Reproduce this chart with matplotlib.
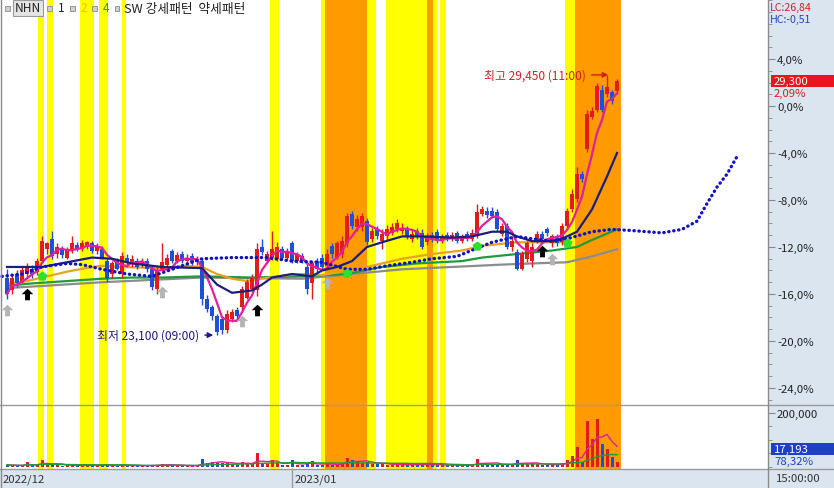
import numpy as np
import pandas as pd
import matplotlib
matplotlib.use('Agg')
import matplotlib.pyplot as plt
from matplotlib.path import Path
from matplotlib.patches import Rectangle
from matplotlib.lines import Line2D
from matplotlib.ticker import FuncFormatter, MultipleLocator

plt.rcParams['font.family'] = ['Noto Sans CJK KR', 'DejaVu Sans']

# hourly candles, % change vs 28,700 base
open_pct = [-14.6, -15.7, -14.3, -15.0, -14.3, -13.9, -14.1, -13.2, -12.2, -11.3,
            -12.6, -12.2, -12.9, -12.3, -11.8, -12.2, -12.0, -11.7, -12.3, -12.2,
            -13.2, -14.3, -13.2, -14.3, -12.9, -13.4, -13.2, -13.5, -13.2, -13.9,
            -15.6, -13.9, -13.5, -12.3, -13.2, -12.6, -13.2, -12.8, -13.3, -13.2,
            -16.4, -17.1, -17.9, -18.1, -19.1, -18.1, -17.4, -17.1, -16.3, -15.6,
            -15.7, -12.0, -13.2, -12.9, -13.0, -12.2, -12.9, -11.7, -13.2, -12.8,
            -13.7, -15.1, -13.2, -12.9, -13.6, -11.9, -12.9, -12.6, -11.7, -9.2,
            -10.3, -10.3, -9.8, -11.3, -10.5, -11.5, -11.1, -10.8, -10.5, -10.6,
            -10.5, -11.3, -10.6, -10.8, -11.6, -11.0, -10.7, -11.5, -11.0, -11.3,
            -10.8, -11.5, -10.9, -11.3, -11.1, -9.2, -8.9, -8.9, -9.0, -10.9,
            -10.2, -12.0, -12.4, -13.9, -13.0, -13.2, -11.5, -10.9, -10.5, -11.7,
            -11.1, -11.6, -10.2, -8.8, -7.9, -5.8, -3.7, -0.9, -0.3, 1.4,
            1.0, 1.2, 1.3]
high_pct = [-13.9, -14.3, -14.0, -13.7, -13.4, -13.5, -12.9, -11.1, -11.6, -10.6,
            -11.7, -11.9, -12.0, -11.1, -11.6, -11.4, -11.5, -11.5, -11.7, -11.9,
            -12.9, -13.2, -12.9, -12.4, -12.6, -12.7, -12.9, -12.9, -12.9, -13.5,
            -13.7, -11.7, -12.6, -12.2, -12.4, -12.3, -12.6, -12.5, -12.8, -12.9,
            -16.1, -16.9, -17.7, -17.9, -17.4, -17.3, -17.1, -15.3, -14.7, -14.3,
            -11.7, -11.3, -12.3, -10.6, -11.6, -11.9, -12.1, -11.5, -12.4, -12.5,
            -13.2, -13.2, -12.9, -12.6, -12.2, -11.7, -11.5, -11.1, -9.1, -8.9,
            -9.3, -9.1, -9.5, -10.4, -10.2, -10.5, -10.1, -10.0, -9.6, -10.0,
            -10.2, -10.5, -10.4, -10.5, -10.8, -10.7, -10.5, -10.9, -10.7, -10.7,
            -10.6, -10.9, -10.6, -10.5, -8.3, -8.5, -8.6, -8.6, -8.8, -10.0,
            -10.0, -11.1, -12.2, -12.3, -11.5, -11.7, -10.6, -10.6, -10.3, -10.9,
            -10.9, -10.0, -8.7, -7.1, -5.2, -5.5, -0.3, -0.1, 2.0, 1.8,
            2.6, 1.4, 2.3]
low_pct = [-16.4, -16.0, -15.4, -15.1, -14.6, -14.6, -14.4, -13.4, -12.6, -13.0,
           -12.9, -12.9, -13.0, -12.5, -12.3, -12.3, -12.2, -12.5, -12.6, -13.0,
           -15.0, -14.6, -14.0, -14.6, -13.7, -13.7, -13.9, -13.7, -14.1, -15.7,
           -16.0, -14.0, -13.7, -13.4, -13.4, -13.4, -13.4, -13.5, -13.5, -16.9,
           -17.5, -18.2, -19.5, -19.4, -19.3, -18.4, -18.2, -17.4, -16.4, -15.7,
           -16.2, -12.7, -13.4, -13.1, -13.2, -13.0, -13.1, -13.4, -13.4, -13.4,
           -16.0, -16.4, -14.1, -13.9, -13.9, -12.9, -13.0, -12.9, -12.0, -10.5,
           -10.6, -10.6, -11.8, -11.6, -11.3, -12.2, -11.4, -11.0, -10.7, -10.9,
           -11.3, -11.6, -11.3, -12.2, -11.8, -11.6, -11.7, -11.7, -11.5, -11.5,
           -11.7, -11.7, -11.5, -11.5, -11.2, -9.4, -9.5, -9.5, -10.6, -11.1,
           -12.2, -12.3, -14.0, -14.0, -13.3, -13.7, -11.7, -11.6, -11.1, -12.0,
           -11.9, -11.8, -10.4, -9.0, -8.2, -6.5, -3.9, -1.1, -0.5, -0.5,
           0.8, 0.2, 1.0]
close_pct = [-16.0, -14.6, -15.1, -14.0, -13.7, -14.3, -13.2, -11.5, -11.7, -12.8,
             -12.0, -12.7, -12.2, -11.7, -12.2, -11.7, -11.6, -12.3, -11.9, -12.9,
             -14.6, -13.4, -13.9, -12.8, -13.4, -13.0, -13.7, -13.2, -13.9, -15.4,
             -14.0, -13.3, -12.9, -13.2, -12.7, -13.2, -12.9, -13.3, -13.0, -16.4,
             -17.3, -17.9, -19.2, -19.1, -17.7, -17.5, -17.9, -15.6, -15.0, -14.6,
             -12.2, -12.4, -12.6, -12.2, -12.0, -12.9, -12.3, -13.2, -12.7, -13.2,
             -15.6, -13.4, -13.9, -13.7, -12.6, -12.6, -11.7, -11.5, -9.4, -10.2,
             -9.6, -9.4, -11.6, -10.6, -11.1, -10.9, -10.5, -10.3, -10.0, -10.4,
             -11.1, -10.9, -11.1, -12.0, -11.1, -11.4, -11.5, -11.1, -11.3, -11.0,
             -11.5, -11.1, -11.3, -10.8, -9.0, -8.8, -9.3, -9.4, -10.5, -10.2,
             -12.0, -11.5, -13.9, -12.6, -11.7, -12.0, -10.9, -11.3, -10.8, -11.1,
             -11.7, -10.2, -8.9, -7.5, -5.8, -6.2, -0.7, -0.4, 1.7, -0.3,
             1.6, 0.4, 2.09]
volume = [8000, 6000, 5000, 5000, 18000, 6000, 7000, 26000, 8000, 12000,
          6000, 5000, 6000, 8000, 5000, 6000, 7000, 5000, 6000, 6000,
          10000, 6000, 5000, 8000, 5000, 4000, 5000, 4000, 5000, 9000,
          8000, 12000, 7000, 5000, 6000, 5000, 4000, 5000, 4000, 30000,
          15000, 20000, 18000, 14000, 16000, 10000, 8000, 20000, 15000, 12000,
          50000, 12000, 10000, 25000, 14000, 8000, 9000, 25000, 8000, 7000,
          12000, 22000, 8000, 7000, 10000, 9000, 12000, 14000, 35000, 25000,
          18000, 16000, 20000, 12000, 10000, 12000, 9000, 8000, 10000, 8000,
          7000, 9000, 8000, 12000, 8000, 7000, 9000, 6000, 7000, 6000,
          7000, 6000, 7000, 8000, 30000, 15000, 10000, 9000, 12000, 8000,
          12000, 8000, 25000, 15000, 12000, 14000, 10000, 8000, 7000, 9000,
          8000, 15000, 25000, 40000, 74000, 20000, 170000, 104000, 178000, 85000,
          67000, 37000, 17193]

# slower averages (bar index, %)
ma20_idx = [0, 7, 12, 17, 21, 25, 31, 39, 42, 45, 49, 51, 53, 57, 61, 63, 66, 69, 72,
            75, 79, 83, 89, 93, 97, 100, 102, 105, 109, 111, 114, 117, 120, 122]
ma20_pct = [-13.7, -13.7, -13.3, -12.9, -13.0, -13.4, -13.7, -13.8, -15.2, -15.9, -15.7,
            -15.2, -14.6, -14.3, -14.5, -14.0, -13.7, -13.2, -12.0, -11.6, -11.1, -11.1,
            -11.2, -11.1, -10.7, -10.7, -11.1, -11.5, -11.5, -11.3, -10.7, -8.8, -6.0, -4.0]
ma60_idx = [0, 3, 7, 12, 17, 19, 23, 31, 35, 39, 42, 45, 48, 51, 54, 59, 63, 72, 79,
            85, 91, 95, 102, 109, 112]
ma60_pct = [-15.1, -15.0, -14.6, -14.1, -13.7, -13.6, -13.7, -13.8, -13.6, -13.7, -14.3,
            -14.7, -14.9, -14.7, -14.5, -14.3, -14.4, -13.7, -13.0, -12.6, -12.3, -11.9,
            -11.6, -11.6, -11.6]
ma120_idx = [0, 5, 12, 19, 25, 31, 39, 49, 59, 68, 75, 82, 91, 95, 102, 109, 114, 117, 122]
ma120_pct = [-15.3, -15.1, -14.9, -14.7, -14.6, -14.6, -14.5, -14.6, -14.5, -14.3, -13.7,
             -13.4, -13.2, -12.9, -12.6, -12.3, -12.0, -11.4, -10.5]
ma240_idx = [0, 19, 39, 59, 79, 99, 105, 112, 117, 122]
ma240_pct = [-15.5, -15.0, -14.6, -14.7, -13.9, -13.5, -13.4, -13.3, -12.8, -12.2]
span_idx = [-1, 3, 7, 12, 15, 19, 24, 29, 39, 45, 52, 57, 63, 68, 72, 76, 81, 85, 90,
            94, 97, 102, 105, 109, 112, 117, 121, 125, 131, 135, 138, 140, 142, 144, 146]
span_pct = [-14.5, -14.3, -13.7, -13.4, -13.5, -13.9, -14.3, -14.5, -13.0, -12.9, -12.9,
            -13.2, -13.3, -13.9, -13.9, -13.6, -13.3, -13.0, -12.8, -12.1, -11.6, -11.1,
            -11.3, -11.5, -11.3, -10.7, -10.5, -10.6, -10.8, -10.5, -9.8, -8.3, -6.9,
            -5.8, -4.3]

# pattern periods (bar units)
band_start = [6.2, 8.0, 14.6, 18.4, 23.0, 52.6, 62.8, 63.6, 72.0, 75.8, 84.0, 85.2, 86.6, 111.6, 113.6]
band_end = [7.4, 9.2, 17.4, 20.2, 23.8, 54.4, 63.6, 72.0, 73.8, 84.0, 85.2, 86.0, 87.8, 113.6, 122.8]
band_kind = ['Y', 'Y', 'Y', 'Y', 'Y', 'Y', 'Y', 'O', 'Y', 'Y', 'O', 'Y', 'Y', 'Y', 'O']

# signal markers (bar index, %)
grey_idx = [0, 31, 47, 64, 109]
grey_pct = [-17.4, -15.8, -18.3, -15.1, -13.0]
black_idx = [4, 50, 107]
black_pct = [-16.0, -17.4, -12.3]
green_idx = [7, 68, 94, 112]
green_pct = [-14.5, -14.2, -11.9, -11.7]

W, H = 834, 489
RED = '#e31b1b'
BLUE = '#1f4fd6'
PANEL = '#dbe5f0'


def fx(x):
    return x / W


def fy(y):
    return 1 - y / H


fig = plt.figure(figsize=(W / 100, H / 100), dpi=100)
fig.patch.set_facecolor('white')
fig.patches.append(Rectangle((fx(768), 0), 1 - fx(768), 1, transform=fig.transFigure,
                             facecolor=PANEL, edgecolor='none', zorder=-5))
fig.patches.append(Rectangle((0, 0), 1, fy(470), transform=fig.transFigure,
                             facecolor=PANEL, edgecolor='none', zorder=-5))

ax = fig.add_axes([0, fy(406), fx(768), fy(0) - fy(406)])
axv = fig.add_axes([0, fy(470), fx(768), fy(406) - fy(470)])

o = np.array(open_pct)
h = np.array(high_pct)
l = np.array(low_pct)
c = np.array(close_pct)
v = np.array(volume)
x = np.arange(len(c))
up = c >= o
cols = np.where(up, RED, BLUE)

for a in (ax, axv):
    a.set_xlim(-1.4, 152.2)
    a.set_xticks([])
    for s in a.spines.values():
        s.set_visible(False)
    for s0, s1, k in zip(band_start, band_end, band_kind):
        a.axvspan(s0, s1, color='#ffff00' if k == 'Y' else '#ff9a00', lw=0, zorder=0)

ax.set_ylim(-25.45, 9.11)

# averages
ax.plot(ma240_idx, ma240_pct, color='#8c8c8c', lw=1.6, zorder=2)
ax.plot(ma120_idx, ma120_pct, color='#1f9a3c', lw=1.6, zorder=2)
ax.plot(ma60_idx, ma60_pct, color='#eaa21c', lw=1.6, zorder=2)

# candles
ax.vlines(x, l, h, colors=cols, lw=1, zorder=3)
ax.bar(x, np.maximum(np.abs(c - o), 0.1), bottom=np.minimum(o, c), width=0.62,
       color=cols, lw=0, zorder=3)

ma5 = pd.Series(c).rolling(5, min_periods=1).mean()
ax.plot(x, ma5, color='#e0209c', lw=1.6, zorder=4)
ax.plot(ma20_idx, ma20_pct, color='#1b1f7a', lw=1.6, zorder=4)
ax.plot(span_idx, span_pct, color='#1010c8', lw=2.4, linestyle=(0, (0.1, 1.4)),
        dash_capstyle='round', zorder=5)

arrow = Path([(0, 1), (-1, 0.05), (-0.42, 0.05), (-0.42, -1), (0.42, -1), (0.42, 0.05),
              (1, 0.05), (0, 1)], closed=True)
ax.scatter(grey_idx, grey_pct, marker=arrow, s=70, color='#b4b4b4', zorder=6, lw=0)
ax.scatter(black_idx, black_pct, marker=arrow, s=70, color='black', zorder=6, lw=0)
ax.scatter(green_idx, green_pct, marker='p', s=55, color='#2ee02e', zorder=6, lw=0)

# right scale
ax.yaxis.tick_right()
ax.set_yticks([4, 0, -4, -8, -12, -16, -20, -24])
ax.yaxis.set_minor_locator(MultipleLocator(1))
ax.yaxis.set_major_formatter(FuncFormatter(lambda val, p: f'{val:.1f}%'.replace('.', ',').replace('−', '-')))
ax.tick_params(axis='y', which='major', direction='out', length=5, pad=1.5, labelsize=8.2,
               colors='#888888', labelcolor='#222222')
ax.tick_params(axis='y', which='minor', direction='out', length=3, colors='#888888')

# annotations
ax.annotate('최고 29,450 (11:00)', xy=(120.8, 2.65), xytext=(-18, 0), textcoords='offset points',
            ha='right', va='center', color='#d42020', fontsize=8.6,
            arrowprops=dict(arrowstyle='-|>', color='#d42020', lw=1, mutation_scale=8))
ax.annotate('최저 23,100 (09:00)', xy=(41.8, -19.5), xytext=(-12, 0), textcoords='offset points',
            ha='right', va='center', color='#1a1a8c', fontsize=8.6,
            arrowprops=dict(arrowstyle='-|>', color='#1a1a8c', lw=1, mutation_scale=8))

# volume
axv.set_ylim(-7400, 229600)
axv.bar(x, v, width=0.6, color=cols, lw=0, zorder=3)
axv.plot(x, pd.Series(v).rolling(5, min_periods=1).mean(), color='#e0209c', lw=1, zorder=4)
axv.plot(x, pd.Series(v).rolling(20, min_periods=1).mean(), color='#1f9a3c', lw=1, zorder=4)
axv.yaxis.tick_right()
axv.set_yticks([200000])
axv.yaxis.set_minor_locator(MultipleLocator(50000))
axv.yaxis.set_major_formatter(FuncFormatter(lambda val, p: f'{val:,.0f}'))
axv.tick_params(axis='y', which='major', direction='out', length=5, pad=1.5, labelsize=8.2,
                colors='#888888', labelcolor='#222222')
axv.tick_params(axis='y', which='minor', direction='out', length=3, colors='#888888')

# frame lines
for yy in (406, 470):
    fig.add_artist(Line2D([0, 1], [fy(yy), fy(yy)], color='#9a9a9a', lw=1, transform=fig.transFigure))
fig.add_artist(Line2D([fx(768), fx(768)], [0, 1], color='#8a8a8a', lw=1, transform=fig.transFigure))
fig.add_artist(Line2D([fx(0.5), fx(0.5)], [0, 1], color='#8a8a8a', lw=1, transform=fig.transFigure))
fig.add_artist(Line2D([fx(292), fx(292)], [0, fy(470)], color='#9a9a9a', lw=1, transform=fig.transFigure))

# legend row
for sx in (7, 49, 72, 94, 117):
    fig.patches.append(Rectangle((fx(sx - 2.5), fy(11.5)), 5 / W, 5 / H, transform=fig.transFigure,
                                 facecolor='#cfcfcf', edgecolor='#8c8c8c', lw=0.6, zorder=5))
fig.text(fx(15), fy(9), 'NHN', fontsize=8.6, va='center', color='#222222',
         bbox=dict(facecolor='#e4e4e4', edgecolor='#9a9a9a', pad=1.2, lw=0.8))
fig.text(fx(58), fy(9), '1', fontsize=8.6, va='center', color='#222222')
fig.text(fx(81), fy(9), '2', fontsize=8.6, va='center', color='#e6c400')
fig.text(fx(103), fy(9), '4', fontsize=8.6, va='center', color='#1fa830')
fig.text(fx(124), fy(9), 'SW 강세패턴  약세패턴', fontsize=9.2, va='center', color='#222222')

# right panel labels
fig.text(fx(770), fy(8), 'LC:26,84', fontsize=7.6, va='center', color='#d42020')
fig.text(fx(770), fy(20), 'HC:-0,51', fontsize=7.6, va='center', color='#2048c0')
fig.patches.append(Rectangle((fx(771), fy(88)), 1 - fx(771), 12 / H, transform=fig.transFigure,
                             facecolor='#e8161c', edgecolor='none', zorder=5))
fig.text(fx(774), fy(82), '29,300', fontsize=8.2, va='center', color='white', zorder=6)
fig.text(fx(774), fy(94), '2,09%', fontsize=8.2, va='center', color='#d42020')
fig.patches.append(Rectangle((fx(771), fy(456)), 1 - fx(771), 12 / H, transform=fig.transFigure,
                             facecolor='#1f3fc8', edgecolor='none', zorder=5))
fig.text(fx(774), fy(450), '17,193', fontsize=8.2, va='center', color='white', zorder=6)
fig.text(fx(774), fy(462), '78,32%', fontsize=8.2, va='center', color='#2040c0')

# date strip
fig.text(fx(3), fy(479.5), '2022/12', fontsize=8.2, va='center', color='#333333')
fig.text(fx(295), fy(479.5), '2023/01', fontsize=8.2, va='center', color='#333333')
fig.text(fx(776), fy(479.5), '15:00:00', fontsize=8.2, va='center', color='#333333')

fig.savefig('out.png', dpi=100)
